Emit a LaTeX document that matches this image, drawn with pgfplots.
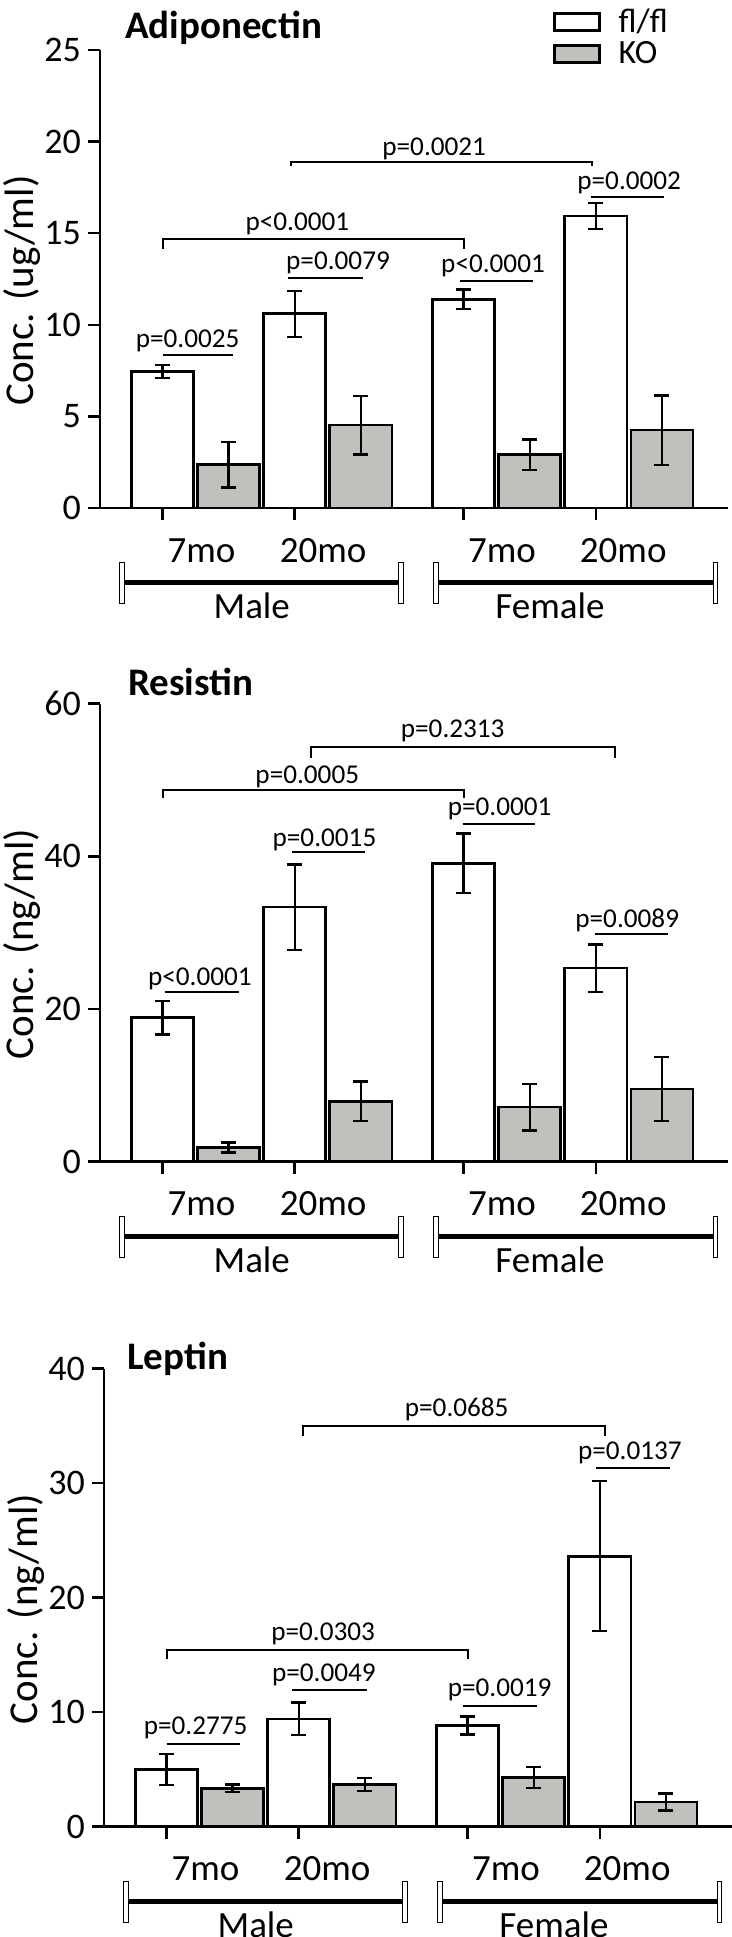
\documentclass[border=0pt]{standalone}
\usepackage{fontspec}
\setmainfont{Carlito}
\usepackage{pgfplots}
\pgfplotsset{compat=1.18}
\definecolor{kogray}{RGB}{192,192,188}
\newcommand{\pfont}{\fontsize{13.6}{14}\selectfont}
\newcommand{\lfont}{\fontsize{18.5}{20}\selectfont}
\pgfplotsset{
 panel/.style={
  scale only axis, width=313.85pt, height=229pt,
  xmin=-0.946, xmax=8.55, ymin=0,
  axis x line*=bottom, axis y line*=left,
  axis line style={line width=1.25pt, black},
  tick align=outside, major tick length=6pt,
  every tick/.style={black, line width=1.25pt},
  xtick={0,2,4.555,6.555}, xticklabels={},
  extra x ticks={0.59,2.43,5.136,6.97},
  extra x tick labels={7mo,20mo,7mo,20mo},
  extra x tick style={major tick length=0pt, xticklabel style={anchor=base, yshift=-27pt}},
  /pgf/number format/assume math mode=true,
  yticklabel style={font=\fontsize{18}{20}\selectfont},
  xticklabel style={font=\lfont},
  ylabel style={font=\fontsize{20.5}{22}\selectfont, at={(axis description cs:-0.1243,0.475)}, anchor=center},
  clip=false,
 },
 ebars/.style={
   error bars/y dir=both, error bars/y explicit,
   error bars/error bar style={line width=1.2pt, black},
   error bars/error mark options={rotate=90, line width=1.2pt, mark size=3.75pt, black}},
 flbar/.style={ybar, bar width=0.94, bar shift=0pt, fill=white, draw=black, line width=1.35pt, ebars},
 kobar/.style={ybar, bar width=0.94, bar shift=0pt, fill=kogray, draw=black, line width=1.35pt, ebars},
 sig/.style={black, line width=1pt, no marks, forget plot},
}
% group bracket: #1 line y, #2 cap top, #3 cap bottom, #4 label baseline
\newcommand{\groups}[4]{%
 \addplot[black, line width=2.5pt, line cap=butt, no marks, forget plot] coordinates {(-0.613,#1) (3.608,#1)};
 \addplot[black, line width=2.5pt, line cap=butt, no marks, forget plot] coordinates {(4.137,#1) (8.363,#1)};
 \addplot[draw=black, fill=white, line width=0.5pt, no marks, forget plot] coordinates {(-0.646,#2) (-0.580,#2) (-0.580,#3) (-0.646,#3) (-0.646,#2)};
 \addplot[draw=black, fill=white, line width=0.5pt, no marks, forget plot] coordinates {(3.575,#2) (3.641,#2) (3.641,#3) (3.575,#3) (3.575,#2)};
 \addplot[draw=black, fill=white, line width=0.5pt, no marks, forget plot] coordinates {(4.104,#2) (4.170,#2) (4.170,#3) (4.104,#3) (4.104,#2)};
 \addplot[draw=black, fill=white, line width=0.5pt, no marks, forget plot] coordinates {(8.330,#2) (8.396,#2) (8.396,#3) (8.330,#3) (8.330,#2)};
 \node[anchor=base, font=\lfont] at (axis cs:1.35,#4) {Male};
 \node[anchor=base, font=\lfont] at (axis cs:5.86,#4) {Female};
}
\begin{document}
\begin{tikzpicture}
\useasboundingbox (0,0) rectangle (366pt,-968.5pt);
% ---------------- Adiponectin ----------------
\begin{axis}[panel, at={(50pt,-254pt)}, anchor=south west,
  ymax=25, ytick={0,5,10,15,20,25}, ylabel={Conc. (ug/ml)},
  legend style={draw=none, fill=none, at={(axis description cs:0.7212,1.091)}, anchor=north west,
    font=\fontsize{17}{17}\selectfont, row sep=3pt, column sep=9pt, inner sep=0pt, nodes={inner sep=0pt}},
  legend cell align=left]
\addplot[flbar, legend image code/.code={\draw[fill=white, draw=black, line width=1.3pt] (0pt,-4.17pt) rectangle (22.5pt,4.17pt);}]
 table[x=x, y=y, y error=e] {
 x y e
 0 7.45 0.37
 2 10.60 1.25
 4.555 11.39 0.54
 6.555 15.94 0.72
 };
\addlegendentry{fl/fl}
\addplot[kobar, legend image code/.code={\draw[fill=kogray, draw=black, line width=1.3pt] (0pt,-4.17pt) rectangle (22.5pt,4.17pt);}]
 table[x=x, y=y, y error=e] {
 x y e
 1 2.37 1.24
 3 4.53 1.60
 5.555 2.91 0.84
 7.555 4.25 1.89
 };
\addlegendentry{KO}
\addplot[sig] coordinates {(0,8.37) (1.07,8.37)};
\addplot[sig] coordinates {(1.905,12.58) (3.03,12.58)};
\addplot[sig] coordinates {(0,14.13) (0,14.71) (4.56,14.71) (4.56,14.13)};
\addplot[sig] coordinates {(4.50,12.38) (5.61,12.38)};
\addplot[sig] coordinates {(6.48,16.98) (7.59,16.98)};
\addplot[sig] coordinates {(1.94,18.66) (1.94,18.87) (6.50,18.87) (6.50,18.66)};
\node[font=\pfont] at (axis cs:0.38,9.1) {p=0.0025};
\node[font=\pfont] at (axis cs:2.655,13.37) {p=0.0079};
\node[font=\pfont] at (axis cs:2.04,15.51) {p<0.0001};
\node[font=\pfont] at (axis cs:5.0,13.22) {p<0.0001};
\node[font=\pfont] at (axis cs:7.06,17.73) {p=0.0002};
\node[font=\pfont] at (axis cs:4.11,19.63) {p=0.0021};
\node[anchor=base west, font=\bfseries\fontsize{19.5}{20}\selectfont] at (axis description cs:0.029,1.0255) {Adiponectin};
\groups{-4.09}{-2.973}{-5.21}{-6.056}
\end{axis}
% ---------------- Resistin ----------------
\begin{axis}[panel, at={(50pt,-580.85pt)}, anchor=south west,
  ymax=60, ytick={0,20,40,60}, ylabel={Conc. (ng/ml)}]
\addplot[flbar] table[x=x, y=y, y error=e] {
 x y e
 0 18.88 2.2
 2 33.35 5.6
 4.555 39.08 3.9
 6.555 25.37 3.1
 };
\addplot[kobar] table[x=x, y=y, y error=e] {
 x y e
 1 1.87 0.66
 3 7.93 2.6
 5.555 7.15 3.05
 7.555 9.52 4.2
 };
\addplot[sig] coordinates {(0.03,22.18) (1.15,22.18)};
\addplot[sig] coordinates {(1.96,40.56) (3.07,40.56)};
\addplot[sig] coordinates {(0,47.6) (0,48.76) (4.56,48.76) (4.56,47.6)};
\addplot[sig] coordinates {(4.54,44.3) (5.64,44.3)};
\addplot[sig] coordinates {(6.54,29.77) (7.65,29.77)};
\addplot[sig] coordinates {(2.25,52.94) (2.25,54.32) (6.84,54.32) (6.84,52.94)};
\node[font=\pfont] at (axis cs:0.565,23.94) {p<0.0001};
\node[font=\pfont] at (axis cs:2.45,42.1) {p=0.0015};
\node[font=\pfont] at (axis cs:2.19,50.47) {p=0.0005};
\node[font=\pfont] at (axis cs:5.10,46.23) {p=0.0001};
\node[font=\pfont] at (axis cs:7.03,31.65) {p=0.0089};
\node[font=\pfont] at (axis cs:4.39,56.5) {p=0.2313};
\node[anchor=base west, font=\bfseries\fontsize{19.5}{20}\selectfont] at (axis description cs:0.034,1.0174) {Resistin};
\groups{-9.81}{-7.127}{-12.49}{-14.52}
\end{axis}
% ---------------- Leptin ----------------
\begin{axis}[panel, at={(52pt,-913.35pt)}, anchor=south west,
  ymax=40, ytick={0,10,20,30,40}, ylabel={Conc. (ng/ml)}]
\addplot[flbar] table[x=x, y=y, y error=e] {
 x y e
 0 5.00 1.35
 2 9.42 1.43
 4.555 8.84 0.80
 6.555 23.63 6.54
 };
\addplot[kobar] table[x=x, y=y, y error=e] {
 x y e
 1 3.36 0.33
 3 3.69 0.57
 5.555 4.31 0.91
 7.555 2.16 0.73
 };
\addplot[sig] coordinates {(0,7.2) (1.11,7.2)};
\addplot[sig] coordinates {(1.90,11.98) (3.03,11.98)};
\addplot[sig] coordinates {(0,14.61) (0,15.42) (4.56,15.42) (4.56,14.61)};
\addplot[sig] coordinates {(4.49,10.52) (5.60,10.52)};
\addplot[sig] coordinates {(6.50,31.31) (7.62,31.31)};
\addplot[sig] coordinates {(2.06,34.16) (2.06,34.96) (6.64,34.96) (6.64,34.16)};
\node[font=\pfont] at (axis cs:0.44,8.66) {p=0.2775};
\node[font=\pfont] at (axis cs:2.38,13.26) {p=0.0049};
\node[font=\pfont] at (axis cs:2.37,16.8) {p=0.0303};
\node[font=\pfont] at (axis cs:5.04,11.98) {p=0.0019};
\node[font=\pfont] at (axis cs:7.01,32.62) {p=0.0137};
\node[font=\pfont] at (axis cs:4.39,36.42) {p=0.0685};
\node[anchor=base west, font=\bfseries\fontsize{19.5}{20}\selectfont] at (axis description cs:0.026,0.998) {Leptin};
\groups{-6.54}{-4.753}{-8.328}{-9.68}
\end{axis}
\end{tikzpicture}
\end{document}
